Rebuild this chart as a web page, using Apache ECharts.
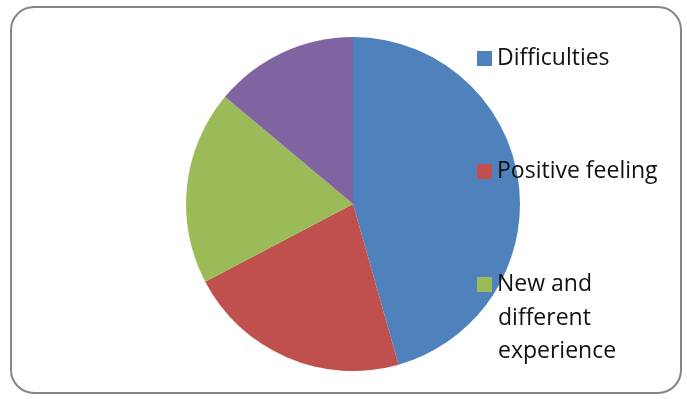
<!DOCTYPE html>
<html>
<head>
<meta charset="utf-8">
<script src="https://cdn.jsdelivr.net/npm/echarts@6/dist/echarts.min.js"></script>
<style>
    html, body { margin: 0; padding: 0; background: #fff; }
    #frame {
        position: absolute; left: 10px; top: 6px; width: 672px; height: 388px;
        border: 2px solid #868686; border-radius: 24px; box-sizing: border-box;
        background: #fff;
    }
    #chart { position: absolute; left: 0; top: 0; width: 687px; height: 399px; }
</style>
</head>
<body>
<div id="frame"></div>
<div id="chart"></div>
<script>
const categories = ['Difficulties', 'Positive feeling', 'New and different experience', 'Other'];
const values = [45.6, 21.7, 18.8, 13.9];
const palette = ['#4F81BD', '#C0504D', '#9BBB59', '#8064A2'];

/* leyenda: solo las tres que se ven, el texto largo va partido */
const legendTops = [51, 164, 277];
const legendLines = [['Difficulties'], ['Positive feeling'], ['New and', 'different', 'experience']];

window.renderPie = function () {
    const el = document.getElementById('chart');
    if (!el) return;
    const chart = echarts.init(el);

    const chartData = categories.map((name, i) => ({ name, value: values[i] }));
    const txt = { fontFamily: 'Open Sans', fontSize: 23, color: '#111' };

    // el texto es mas alto que el cuadrito, se corrige el top
    const legends = legendTops.map((top, i) => ({
        left: 477,
        top: top - 4,
        orient: 'vertical',
        itemWidth: 15,
        itemHeight: 15,
        itemGap: 0,
        itemStyle: { borderWidth: 0 },
        padding: 0,
        icon: 'rect',
        selectedMode: false,
        data: [categories[i]],
        formatter: () => legendLines[i][0],
        textStyle: txt
    }));

    // resto de lineas de la tercera entrada
    const extra = legendLines[2].slice(1).map((s, k) => ({
        type: 'text',
        left: 498,
        top: legendTops[2] - 3 + 33 * (k + 1),
        style: { text: s, fill: txt.color, font: '23px "Open Sans"' }
    }));

    const option = {
        animation: false,
        color: palette,
        legend: legends,
        graphic: extra,
        series: [{
            type: 'pie',
            center: [353, 204],
            radius: 167,
            startAngle: 90,
            clockwise: true,
            label: { show: false },
            labelLine: { show: false },
            data: chartData
        }]
    };

    chart.setOption(option);
};

window.renderPie();
</script>
</body>
</html>
